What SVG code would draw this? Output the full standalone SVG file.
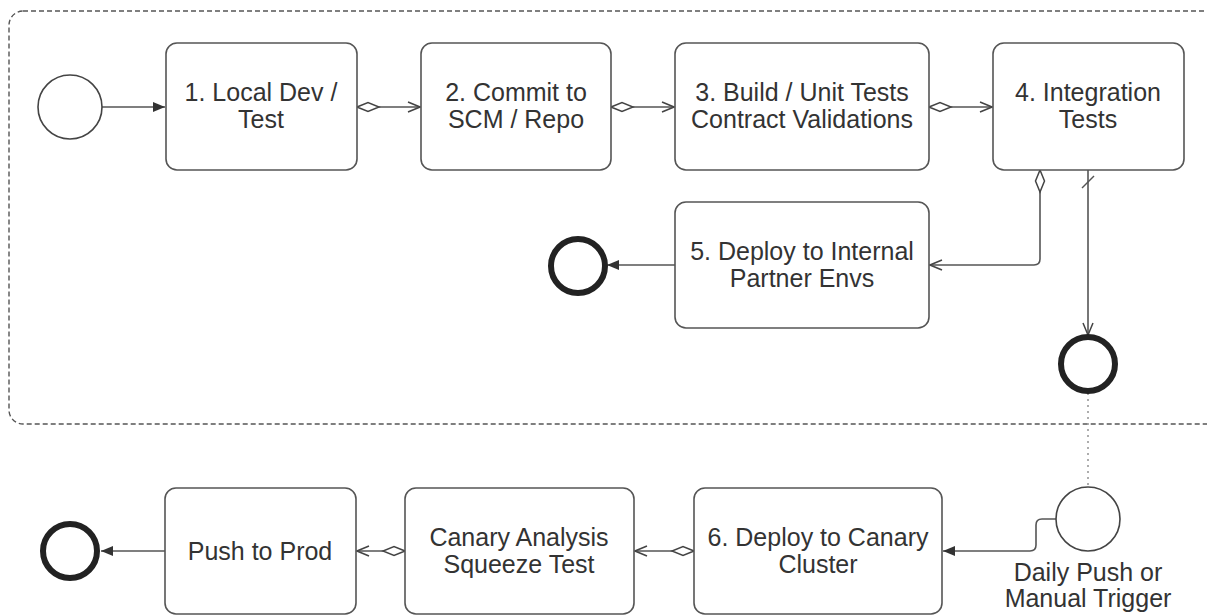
<svg xmlns="http://www.w3.org/2000/svg" width="1207" height="616" viewBox="0 0 1207 616">
<style>
.box{fill:#fff;stroke:#555;stroke-width:1.6}
.start{fill:#fff;stroke:#444;stroke-width:1.6}
.end{fill:#fff;stroke:#222;stroke-width:6}
.lbl{font-family:"Liberation Sans",Arial,sans-serif;font-size:25px;fill:#333;text-anchor:middle}
.c{fill:none;stroke:#555;stroke-width:1.6}
</style>
<defs>
<marker id="fa" viewBox="0 0 12 12" refX="12" refY="6" markerWidth="12" markerHeight="12" markerUnits="userSpaceOnUse" orient="auto"><path d="M0,1 L12,6 L0,11 Z" fill="#333"/></marker>
<marker id="oa" viewBox="0 0 14 12" refX="13" refY="6" markerWidth="14" markerHeight="12" markerUnits="userSpaceOnUse" orient="auto"><path d="M1,1 L13,6 L1,11" fill="none" stroke="#444" stroke-width="1.5"/></marker>
<marker id="dm" viewBox="0 0 26 12" refX="1" refY="6" markerWidth="26" markerHeight="12" markerUnits="userSpaceOnUse" orient="auto"><path d="M1,6 L12,1.5 L23,6 L12,10.5 Z" fill="#fff" stroke="#444" stroke-width="1.5"/></marker>
</defs>
<rect x="9" y="11" width="1230" height="413" rx="14" fill="none" stroke="#555" stroke-width="1.4" stroke-dasharray="5,3"/>
<g id="connectors">
<line class="c" x1="102" y1="107" x2="165" y2="107" marker-end="url(#fa)"/>
<line class="c" x1="357" y1="107" x2="420" y2="107" marker-start="url(#dm)" marker-end="url(#oa)"/>
<line class="c" x1="611" y1="107" x2="674" y2="107" marker-start="url(#dm)" marker-end="url(#oa)"/>
<line class="c" x1="929" y1="107" x2="992" y2="107" marker-start="url(#dm)" marker-end="url(#oa)"/>
<path class="c" d="M1040,170 V259 Q1040,265 1034,265 H930" marker-start="url(#dm)" marker-end="url(#oa)"/>
<line class="c" x1="675" y1="265" x2="607" y2="265" marker-end="url(#fa)"/>
<path class="c" d="M1088,170 V335" marker-end="url(#oa)"/>
<line x1="1082" y1="188" x2="1094" y2="176" stroke="#555" stroke-width="1.4"/>
<line x1="1088" y1="393" x2="1088" y2="486" stroke="#999" stroke-width="1.6" stroke-dasharray="2,4"/>
<path class="c" d="M1056,519 H1042 Q1036,519 1036,525 V545 Q1036,551 1030,551 H943" marker-end="url(#fa)"/>
<line class="c" x1="694" y1="551" x2="635" y2="551" marker-start="url(#dm)" marker-end="url(#oa)"/>
<line class="c" x1="405" y1="551" x2="357" y2="551" marker-start="url(#dm)" marker-end="url(#oa)"/>
<line class="c" x1="165" y1="551" x2="101" y2="551" marker-end="url(#fa)"/>
</g>
<g id="start1"><circle class="start" cx="70" cy="107" r="32"/></g>
<g id="n1"><rect class="box" x="166" y="43" width="191" height="127" rx="11"/><text class="lbl" x="261" y="101">1. Local Dev /</text><text class="lbl" x="261" y="128">Test</text></g>
<g id="n2"><rect class="box" x="421" y="43" width="190" height="127" rx="11"/><text class="lbl" x="516" y="101">2. Commit to</text><text class="lbl" x="516" y="128">SCM / Repo</text></g>
<g id="n3"><rect class="box" x="675" y="43" width="254" height="127" rx="11"/><text class="lbl" x="802" y="101">3. Build / Unit Tests</text><text class="lbl" x="802" y="128">Contract Validations</text></g>
<g id="n4"><rect class="box" x="993" y="43" width="191" height="127" rx="11"/><text class="lbl" x="1088" y="101">4. Integration</text><text class="lbl" x="1088" y="128">Tests</text></g>
<g id="n5"><rect class="box" x="675" y="202" width="254" height="126" rx="11"/><text class="lbl" x="802" y="260">5. Deploy to Internal</text><text class="lbl" x="802" y="287">Partner Envs</text></g>
<g id="end5"><circle class="end" cx="578" cy="266" r="27"/></g>
<g id="end4"><circle class="end" cx="1088" cy="364" r="27"/></g>
<g id="start2"><circle class="start" cx="1088" cy="519" r="32"/><text class="lbl" x="1088" y="581">Daily Push or</text><text class="lbl" x="1088" y="607">Manual Trigger</text></g>
<g id="n6"><rect class="box" x="694" y="488" width="248" height="126" rx="11"/><text class="lbl" x="818" y="546">6. Deploy to Canary</text><text class="lbl" x="818" y="573">Cluster</text></g>
<g id="n7"><rect class="box" x="405" y="488" width="229" height="126" rx="11"/><text class="lbl" x="519" y="546">Canary Analysis</text><text class="lbl" x="519" y="573">Squeeze Test</text></g>
<g id="n8"><rect class="box" x="165" y="488" width="191" height="126" rx="11"/><text class="lbl" x="260" y="560">Push to Prod</text></g>
<g id="end8"><circle class="end" cx="70" cy="551" r="27"/></g>
</svg>
